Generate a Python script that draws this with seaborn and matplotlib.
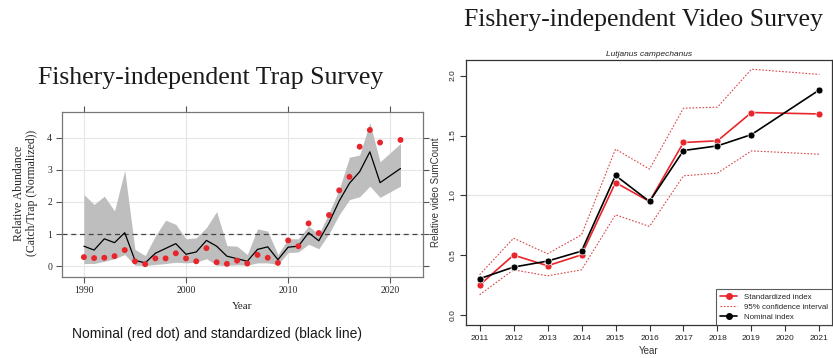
import numpy as np
import pandas as pd
import matplotlib
matplotlib.use("Agg")
import matplotlib.pyplot as plt
import seaborn as sns
from matplotlib.lines import Line2D

# --- Trap survey (left), 2020 missing ---
trap_years = [1990, 1991, 1992, 1993, 1994, 1995, 1996, 1997, 1998, 1999,
              2000, 2001, 2002, 2003, 2004, 2005, 2006, 2007, 2008, 2009,
              2010, 2011, 2012, 2013, 2014, 2015, 2016, 2017, 2018, 2019, 2021]
trap_nominal = [0.28, 0.25, 0.26, 0.31, 0.50, 0.15, 0.06, 0.24, 0.24, 0.40,
                0.24, 0.15, 0.56, 0.12, 0.07, 0.17, 0.08, 0.35, 0.26, 0.10,
                0.80, 0.62, 1.33, 1.03, 1.59, 2.36, 2.78, 3.72, 4.24, 3.85, 3.93]
trap_std = [0.62, 0.50, 0.85, 0.73, 1.04, 0.18, 0.10, 0.40, 0.55, 0.70,
            0.37, 0.44, 0.80, 0.62, 0.31, 0.23, 0.15, 0.52, 0.60, 0.20,
            0.59, 0.62, 1.04, 0.79, 1.35, 2.03, 2.58, 2.94, 3.56, 2.60, 3.04]
trap_upper = [2.23, 1.92, 2.18, 1.72, 2.98, 0.52, 0.33, 0.94, 1.43, 1.30,
              0.85, 0.88, 1.20, 1.70, 0.64, 0.62, 0.36, 1.16, 1.09, 0.36,
              0.85, 0.85, 1.25, 0.99, 1.66, 2.39, 3.39, 3.46, 4.47, 3.25, 3.82]
trap_lower = [0.08, 0.08, 0.15, 0.23, 0.36, 0.03, 0.02, 0.05, 0.08, 0.12,
              0.10, 0.12, 0.23, 0.03, 0.02, 0.04, 0.03, 0.10, 0.10, 0.05,
              0.42, 0.44, 0.68, 0.54, 1.01, 1.60, 2.07, 2.16, 2.49, 2.14, 2.49]

# --- Video survey (right), 2020 missing ---
video_years = [2011, 2012, 2013, 2014, 2015, 2016, 2017, 2018, 2019, 2021]
video_std = [0.253, 0.503, 0.414, 0.505, 1.108, 0.950, 1.442, 1.456, 1.692, 1.680]
video_nominal = [0.306, 0.403, 0.453, 0.536, 1.167, 0.950, 1.375, 1.414, 1.508, 1.881]
video_upper = [0.339, 0.644, 0.514, 0.672, 1.387, 1.220, 1.728, 1.737, 2.053, 2.010]
video_lower = [0.172, 0.380, 0.330, 0.380, 0.839, 0.742, 1.164, 1.187, 1.372, 1.344]
video_xticks = list(range(2011, 2022))

RED = "#e8252b"

sns.set_theme(style="white")
plt.rcParams["font.family"] = ["Liberation Serif", "DejaVu Serif"]

trap = pd.DataFrame({"year": trap_years, "nominal": trap_nominal, "std": trap_std,
                     "upper": trap_upper, "lower": trap_lower})
video = pd.DataFrame({"year": video_years, "std": video_std, "nominal": video_nominal,
                      "upper": video_upper, "lower": video_lower})

fig = plt.figure(figsize=(8.33, 3.58), dpi=100)

# ---------------- left panel ----------------
ax1 = fig.add_axes([0.0741, 0.2271, 0.4333, 0.4609])
for y in [0, 1, 2, 3, 4]:
    ax1.axhline(y, color="#e6e6e6", lw=0.8, zorder=0)
for x in [1990, 2000, 2010, 2020]:
    ax1.axvline(x, color="#e6e6e6", lw=0.8, zorder=0)
ax1.fill_between(trap["year"], trap["lower"], trap["upper"], color="#bebebe", lw=0, zorder=1)
ax1.axhline(1, color="#444444", lw=0.9, ls=(0, (4, 3)), zorder=2)
sns.lineplot(data=trap, x="year", y="std", ax=ax1, color="black", lw=0.9, zorder=3)
sns.scatterplot(data=trap, x="year", y="nominal", ax=ax1, color=RED, s=18,
                edgecolor="none", zorder=4)
ax1.set_xlim(1987.83, 2023.17)
ax1.set_ylim(-0.33, 4.81)
ax1.set_xticks([1990, 2000, 2010, 2020])
ax1.set_yticks([0, 1, 2, 3, 4])
ax1.tick_params(axis="both", which="both", direction="out", length=4, width=0.8,
                color="#555555", labelsize=7, top=True, right=True,
                labeltop=False, labelright=False, bottom=True, left=True, pad=3)
for s in ax1.spines.values():
    s.set_color("#777777")
    s.set_linewidth(0.9)
ax1.set_xlabel("Year", fontsize=8, labelpad=5)
ax1.set_ylabel("")
fig.text(0.031, 0.46, "Relative Abundance\n(Catch/Trap (Normalized))", rotation=90,
         ha="center", va="center", fontsize=8.5, linespacing=1.15)

fig.text(0.2533, 0.782, "Fishery-independent Trap Survey", ha="center", va="center",
         fontsize=18.5, color="#1a1a1a")
fig.text(0.260, 0.067, "Nominal (red dot) and standardized (black line)", ha="center",
         va="center", fontsize=10, family=["Liberation Sans", "DejaVu Sans"], color="#1a1a1a")

# ---------------- right panel ----------------
ax2 = fig.add_axes([0.5594, 0.0922, 0.4394, 0.7402])
ax2.axhline(1.0, color="#e4e4e4", lw=0.9, zorder=0)
sns.lineplot(data=video, x="year", y="upper", ax=ax2, color="#d9484c", lw=0.8,
             linestyle=(0, (1.5, 1.5)), zorder=2)
sns.lineplot(data=video, x="year", y="lower", ax=ax2, color="#d9484c", lw=0.8,
             linestyle=(0, (1.5, 1.5)), zorder=2)
sns.lineplot(data=video, x="year", y="std", ax=ax2, color=RED, lw=1.2, marker="o",
             markersize=5, markeredgecolor="white", markeredgewidth=0.5, zorder=3)
sns.lineplot(data=video, x="year", y="nominal", ax=ax2, color="black", lw=1.2, marker="o",
             markersize=5, markeredgecolor="white", markeredgewidth=0.5, zorder=4)
ax2.set_xlim(2010.6, 2021.37)
ax2.set_ylim(-0.08, 2.13)
ax2.set_xticks(video_xticks)
ax2.set_xticklabels([str(y) for y in video_xticks])
ax2.set_yticks([0.0, 0.5, 1.0, 1.5, 2.0])
ax2.set_yticklabels(["0.0", "0.5", "1.0", "1.5", "2.0"], rotation=90, va="center")
sans = ["Liberation Sans", "DejaVu Sans"]
for lab in ax2.get_xticklabels() + ax2.get_yticklabels():
    lab.set_family(sans)
ax2.tick_params(axis="both", direction="out", length=4, width=0.8, color="#333333",
                labelsize=6, bottom=True, left=True, pad=3, labelcolor="#222222")
for s in ax2.spines.values():
    s.set_color("#333333")
    s.set_linewidth(0.9)
ax2.set_xlabel("Year", fontsize=7, family=sans, labelpad=3, color="#333333")
ax2.set_ylabel("Relative video SumCount", fontsize=7, family=sans, labelpad=6, color="#333333")
ax2.set_title("Lutjanus campechanus", fontsize=6, family=sans, style="italic", pad=3,
              color="#222222")

handles = [
    Line2D([], [], color=RED, lw=1.2, marker="o", markersize=4),
    Line2D([], [], color="#d9484c", lw=0.8, linestyle=(0, (1.5, 1.5))),
    Line2D([], [], color="black", lw=1.2, marker="o", markersize=4),
]
leg = ax2.legend(handles, ["Standardized index", "95% confidence interval", "Nominal index"],
                 loc="lower right", bbox_to_anchor=(1.0, 0.0), prop={"family": sans, "size": 5.7},
                 frameon=True, fancybox=False, borderaxespad=0, handlelength=2.2,
                 labelspacing=0.3, borderpad=0.55, handletextpad=0.8)
leg.get_frame().set_edgecolor("#333333")
leg.get_frame().set_linewidth(0.8)

fig.text(0.773, 0.944, "Fishery-independent Video Survey", ha="center", va="center",
         fontsize=18.5, color="#1a1a1a")

fig.savefig("out.png", dpi=100, facecolor="white")
